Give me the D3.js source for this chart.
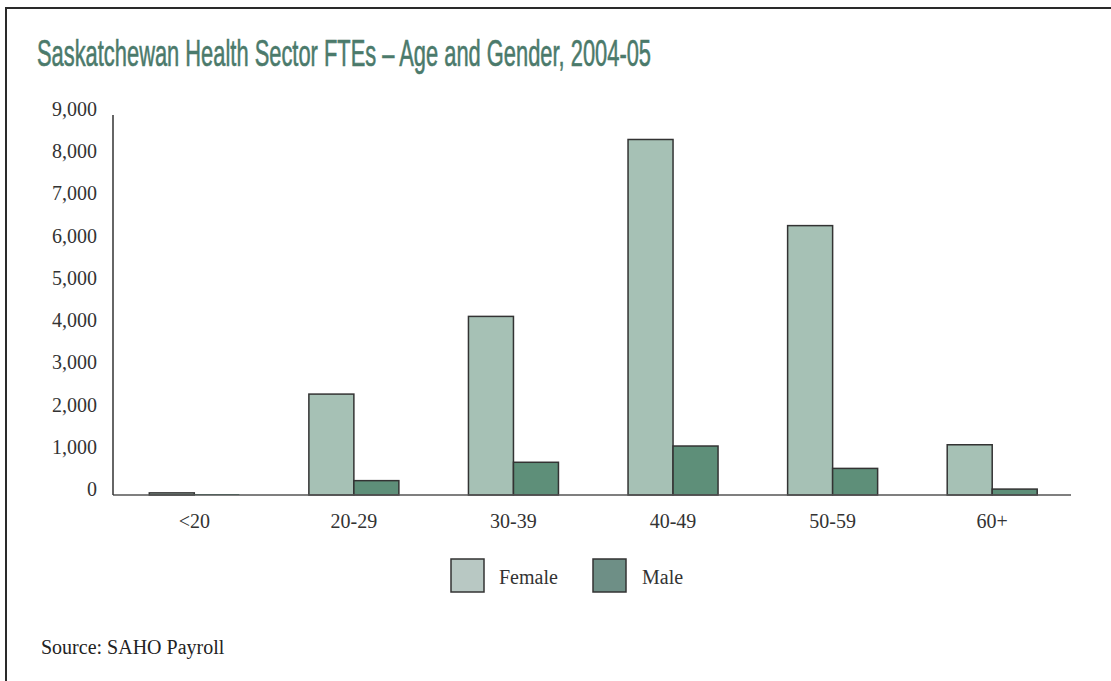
<!DOCTYPE html>
<html>
<head>
<meta charset="utf-8">
<script src="https://cdn.jsdelivr.net/npm/d3@7"></script>
<style>
  html, body { margin: 0; padding: 0; background: #fff; }
  svg { display: block; }
</style>
</head>
<body>
<svg id="chart" width="1111" height="681"></svg>
<script>
// FTEs by age group and gender
const categories = ["<20", "20-29", "30-39", "40-49", "50-59", "60+"];
const seriesNames = ["Female", "Male"];
const female = [50, 2390, 4230, 8420, 6380, 1190];
const male = [20, 340, 775, 1160, 630, 140];
const yTicks = [0, 1000, 2000, 3000, 4000, 5000, 6000, 7000, 8000, 9000];

const barFill = { Female: "#a6c1b5", Male: "#5e8f79" };
const swatchFill = { Female: "#b8c8c3", Male: "#6e8f86" };
const serif = "'Liberation Serif', 'Times New Roman', serif";

const svg = d3.select("#chart");

// Frame (top and left rules)
svg.append("path")
  .attr("d", "M6,681 V8 H1111")
  .attr("fill", "none")
  .attr("stroke", "#2a2a2a")
  .attr("stroke-width", 2);

// Title: condensed sans
svg.append("text")
  .attr("x", 37)
  .attr("y", 66)
  .attr("font-family", "'Liberation Sans', Arial, sans-serif")
  .attr("font-size", 37)
  .attr("fill", "#4b7a6b")
  .attr("stroke", "#4b7a6b")
  .attr("stroke-width", 0.6)
  .attr("textLength", 614)
  .attr("lengthAdjust", "spacingAndGlyphs")
  .text("Saskatchewan Health Sector FTEs \u2013 Age and Gender, 2004-05");

// Scales
const x0 = d3.scaleBand()
  .domain(categories)
  .range([114.5, 1072])
  .paddingInner(0.436)
  .paddingOuter(0.218);

const x1 = d3.scaleBand()
  .domain(seriesNames)
  .range([0, x0.bandwidth()]);

const y = d3.scaleLinear()
  .domain([0, 9000])
  .range([495, 115]);

// Y axis labels
const fmt = d3.format(",");
svg.append("g")
  .selectAll("text")
  .data(yTicks)
  .join("text")
  .attr("x", 97)
  .attr("y", d => y(d) + 1)
  .attr("text-anchor", "end")
  .attr("font-family", serif)
  .attr("font-size", 20)
  .attr("fill", "#333")
  .text(d => fmt(d));

// Bars
const rows = categories.map((c, i) => ({ cat: c, values: [
  { key: "Female", value: female[i] },
  { key: "Male", value: male[i] }
]}));

const groups = svg.append("g")
  .selectAll("g")
  .data(rows)
  .join("g")
  .attr("transform", d => `translate(${x0(d.cat)},0)`);

groups.selectAll("rect")
  .data(d => d.values)
  .join("rect")
  .attr("x", d => x1(d.key))
  .attr("y", d => y(d.value))
  .attr("width", x1.bandwidth())
  .attr("height", d => y(0) - y(d.value))
  .attr("fill", d => (y(0) - y(d.value)) < 1.5 ? "#2e6e58" : barFill[d.key])
  .attr("stroke", d => (y(0) - y(d.value)) < 1.5 ? "none" : "#333")
  .attr("stroke-width", 1.5);

// Axis lines
svg.append("line")
  .attr("x1", 113).attr("x2", 1071)
  .attr("y1", y(0)).attr("y2", y(0))
  .attr("stroke", "#555").attr("stroke-width", 1.5);
svg.append("line")
  .attr("x1", 113).attr("x2", 113)
  .attr("y1", y(9000)).attr("y2", y(0))
  .attr("stroke", "#333").attr("stroke-width", 1.5);

// Category labels
svg.append("g")
  .selectAll("text")
  .data(categories)
  .join("text")
  .attr("x", d => x0(d) + x0.bandwidth() / 2)
  .attr("y", 528)
  .attr("text-anchor", "middle")
  .attr("font-family", serif)
  .attr("font-size", 20)
  .attr("fill", "#333")
  .text(d => d);

// Legend
const legendItems = [
  { key: "Female", bx: 451, tx: 499 },
  { key: "Male", bx: 593, tx: 642 }
];
const legend = svg.append("g");
legend.selectAll("rect")
  .data(legendItems)
  .join("rect")
  .attr("x", d => d.bx)
  .attr("y", 559)
  .attr("width", 33)
  .attr("height", 33)
  .attr("fill", d => swatchFill[d.key])
  .attr("stroke", "#333")
  .attr("stroke-width", 1.5);
legend.selectAll("text")
  .data(legendItems)
  .join("text")
  .attr("x", d => d.tx)
  .attr("y", 584)
  .attr("font-family", serif)
  .attr("font-size", 20)
  .attr("fill", "#333")
  .text(d => d.key);

// Source note
svg.append("text")
  .attr("x", 41)
  .attr("y", 654)
  .attr("font-family", serif)
  .attr("font-size", 20)
  .attr("fill", "#222")
  .text("Source: SAHO Payroll");
</script>
</body>
</html>
